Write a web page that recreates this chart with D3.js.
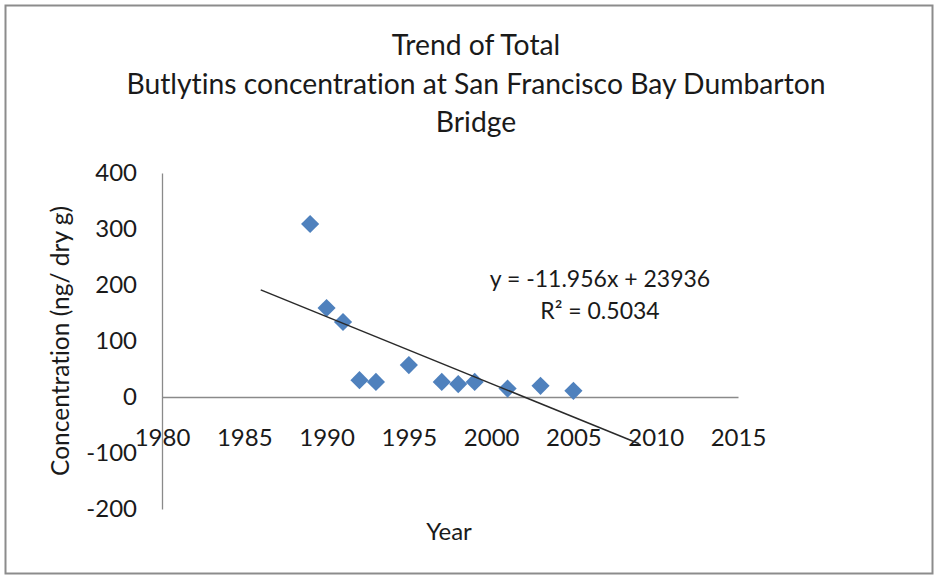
<!DOCTYPE html>
<html>
<head>
<meta charset="utf-8">
<script src="https://cdn.jsdelivr.net/npm/d3@7"></script>
<style>
  body { margin: 0; background: #fff; }
  svg text { font-family: Lato, "Open Sans", sans-serif; fill: #1a1a1a; font-variant-ligatures: none; }
</style>
</head>
<body>
<script>
// scatter of total butyltins with linear trendline

var years = [1989, 1990, 1991, 1992, 1993, 1995, 1997, 1998, 1999, 2001, 2003, 2005];
var concentrations = [309, 159, 134, 30, 27, 57, 27, 23, 27, 15, 20, 11];
var xTicks = [1980, 1985, 1990, 1995, 2000, 2005, 2010, 2015];
var yTicks = [-200, -100, 0, 100, 200, 300, 400];
var trendSlope = -11.956;
var trendIntercept = 23936;
var trendRange = [1986, 2009];
var titleLines = ["Trend of Total", "Butlytins concentration at San Francisco Bay Dumbarton", "Bridge"];

var width = 938, height = 579;

var svg = d3.select("body").append("svg")
  .attr("width", width)
  .attr("height", height);

// outer chart border
svg.append("rect")
  .attr("x", 5.5).attr("y", 5.5)
  .attr("width", 927).attr("height", 568)
  .attr("fill", "#fff")
  .attr("stroke", "#8c8c8c")
  .attr("stroke-width", 2);

var x = d3.scaleLinear().domain([1980, 2015]).range([162, 738]);
var y = d3.scaleLinear().domain([-200, 400]).range([509, 173]);

// plain hyphen for negatives, like the original
var plain = function(d) { return String(d); };

// title
svg.append("g").selectAll("text")
  .data(titleLines)
  .enter().append("text")
  .attr("x", 476)
  .attr("y", function(d, i) { return 55 + i * 38.5; })
  .attr("text-anchor", "middle")
  .style("font-size", "28.3px")
  .text(function(d) { return d; });

// y axis
var yAxis = d3.axisLeft(y).tickValues(yTicks).tickFormat(plain).tickSize(0).tickPadding(25);
var gy = svg.append("g")
  .attr("transform", "translate(" + x(1980) + ",0)")
  .call(yAxis);
gy.select(".domain").attr("stroke", "#8a8a8a").attr("stroke-width", 1.3);
gy.selectAll("text").style("font-size", "24px").attr("font-family", null);

// x axis drawn through y = 0, labels pushed below
var xAxis = d3.axisBottom(x).tickValues(xTicks).tickFormat(plain).tickSize(0).tickPadding(32);
var gx = svg.append("g")
  .attr("transform", "translate(0," + y(0) + ")")
  .call(xAxis);
gx.select(".domain").attr("stroke", "#8a8a8a").attr("stroke-width", 1.3);
gx.selectAll("text").style("font-size", "24px").attr("font-family", null);

// axis titles
svg.append("text")
  .attr("transform", "translate(69," + 341 + ") rotate(-90)")
  .attr("text-anchor", "middle")
  .style("font-size", "24.5px")
  .text("Concentration (ng/ dry g)");

svg.append("text")
  .attr("x", 449)
  .attr("y", 540)
  .attr("text-anchor", "middle")
  .style("font-size", "24px")
  .text("Year");

// data points
var points = years.map(function(d, i) { return { year: d, value: concentrations[i] }; });
var diamond = d3.symbol().type(d3.symbolSquare).size(165);

svg.append("g").selectAll("path")
  .data(points)
  .enter().append("path")
  .attr("d", diamond)
  .attr("fill", "#4f81bd")
  .attr("transform", function(d) {
    return "translate(" + x(d.year) + "," + y(d.value) + ") rotate(45)";
  });

// trendline
var trend = trendRange.map(function(t) { return { year: t, value: trendSlope * t + trendIntercept }; });
svg.append("path")
  .datum(trend)
  .attr("fill", "none")
  .attr("stroke", "#2a2a2a")
  .attr("stroke-width", 1.5)
  .attr("d", d3.line()
    .x(function(d) { return x(d.year); })
    .y(function(d) { return y(d.value); }));

// trendline equation
svg.append("text")
  .attr("x", 600).attr("y", 287)
  .attr("text-anchor", "middle")
  .style("font-size", "23px")
  .text("y = -11.956x + 23936");

svg.append("text")
  .attr("x", 600).attr("y", 319)
  .attr("text-anchor", "middle")
  .style("font-size", "23px")
  .text("R² = 0.5034");
</script>
</body>
</html>
